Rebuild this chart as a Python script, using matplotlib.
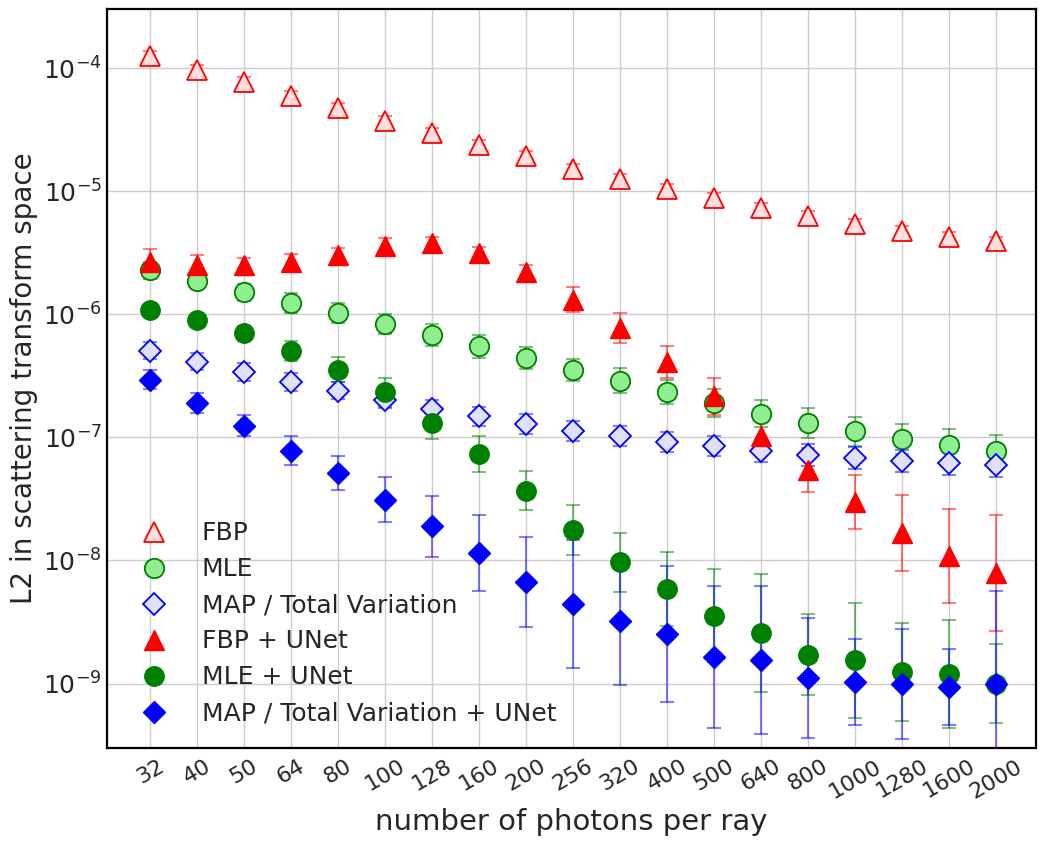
import numpy as np
import matplotlib
matplotlib.use('Agg')
import matplotlib.pyplot as plt

photons = ['32', '40', '50', '64', '80', '100', '128', '160', '200', '256',
           '320', '400', '500', '640', '800', '1000', '1280', '1600', '2000']

# mean L2 values per method
fbp = [1.25e-4, 9.6e-5, 7.7e-5, 5.9e-5, 4.77e-5, 3.73e-5, 2.95e-5, 2.37e-5, 1.93e-5, 1.51e-5,
       1.26e-5, 1.04e-5, 8.85e-6, 7.3e-6, 6.3e-6, 5.4e-6, 4.75e-6, 4.27e-6, 3.9e-6]
mle = [2.27e-6, 1.87e-6, 1.51e-6, 1.23e-6, 1.02e-6, 8.36e-7, 6.76e-7, 5.47e-7, 4.4e-7, 3.54e-7,
       2.88e-7, 2.33e-7, 1.9e-7, 1.55e-7, 1.31e-7, 1.12e-7, 9.7e-8, 8.7e-8, 7.8e-8]
tv = [5.05e-7, 4.11e-7, 3.39e-7, 2.81e-7, 2.39e-7, 2.02e-7, 1.71e-7, 1.48e-7, 1.28e-7, 1.13e-7,
      1.02e-7, 9.2e-8, 8.55e-8, 7.8e-8, 7.2e-8, 6.8e-8, 6.45e-8, 6.2e-8, 6.0e-8]
fbp_unet = [2.68e-6, 2.5e-6, 2.49e-6, 2.68e-6, 3.03e-6, 3.6e-6, 3.77e-6, 3.13e-6, 2.22e-6, 1.31e-6,
            7.7e-7, 4.13e-7, 2.15e-7, 1.02e-7, 5.45e-8, 3.0e-8, 1.67e-8, 1.09e-8, 7.9e-9]
mle_unet = [1.09e-6, 8.9e-7, 7.0e-7, 5.05e-7, 3.54e-7, 2.32e-7, 1.31e-7, 7.3e-8, 3.68e-8, 1.77e-8,
            9.7e-9, 5.86e-9, 3.56e-9, 2.58e-9, 1.72e-9, 1.54e-9, 1.24e-9, 1.2e-9, 1.0e-9]
tv_unet = [2.94e-7, 1.9e-7, 1.24e-7, 7.8e-8, 5.13e-8, 3.12e-8, 1.89e-8, 1.15e-8, 6.7e-9, 4.46e-9,
           3.24e-9, 2.53e-9, 1.64e-9, 1.55e-9, 1.11e-9, 1.03e-9, 0.99e-9, 0.94e-9, 1.0e-9]

# half width of the error bars, in decades
fbp_err = [0.04] * 19
mle_err = [0.07, 0.07, 0.07, 0.08, 0.08, 0.08, 0.09, 0.09, 0.09, 0.09,
           0.1, 0.1, 0.11, 0.11, 0.12, 0.12, 0.12, 0.13, 0.13]
tv_err = [0.07, 0.07, 0.07, 0.07, 0.07, 0.07, 0.07, 0.08, 0.08, 0.08,
          0.08, 0.08, 0.08, 0.09, 0.09, 0.09, 0.09, 0.1, 0.1]
fbp_unet_err = [0.10, 0.08, 0.06, 0.06, 0.06, 0.06, 0.05, 0.05, 0.05, 0.1,
                0.12, 0.13, 0.15, 0.15, 0.18, 0.22, 0.31, 0.38, 0.47]
mle_unet_err = [0.04, 0.05, 0.06, 0.08, 0.1, 0.12, 0.13, 0.146, 0.16, 0.2,
                0.24, 0.3, 0.38, 0.48, 0.33, 0.47, 0.4, 0.44, 0.32]
tv_unet_err = [0.075, 0.08, 0.085, 0.12, 0.14, 0.185, 0.25, 0.31, 0.365, 0.52,
               0.52, 0.55, 0.58, 0.6, 0.49, 0.35, 0.45, 0.31, 0.75]

series = [
    ('FBP', fbp, fbp_err, dict(marker='^', ms=14, mfc='#ffdede', mec='red', mew=1.3), 'red'),
    ('MLE', mle, mle_err, dict(marker='o', ms=14, mfc='#90ee90', mec='green', mew=1.3), 'green'),
    ('MAP / Total Variation', tv, tv_err, dict(marker='D', ms=11, mfc='#e0e0fa', mec='blue', mew=1.3), 'blue'),
    ('FBP + UNet', fbp_unet, fbp_unet_err, dict(marker='^', ms=14, mfc='red', mec='red'), 'red'),
    ('MLE + UNet', mle_unet, mle_unet_err, dict(marker='o', ms=14, mfc='green', mec='green'), 'green'),
    ('MAP / Total Variation + UNet', tv_unet, tv_unet_err, dict(marker='D', ms=11, mfc='blue', mec='blue'), 'blue'),
]

fig = plt.figure(figsize=(10.47, 8.47), dpi=100)
ax = fig.add_axes([0.102, 0.117, 0.8875, 0.872])
x = np.arange(len(photons))

for label, vals, err, mstyle, col in series:
    v = np.array(vals)
    e = np.array(err)
    lo = v - v / 10**e
    hi = v * 10**e - v
    ax.errorbar(x, v, yerr=[lo, hi], fmt='none', ecolor=col, alpha=0.5,
                elinewidth=1.5, capsize=5, capthick=1.5, zorder=2)
    ax.plot(x, v, linestyle='none', label=label, zorder=3, **mstyle)

ax.set_yscale('log')
ax.set_ylim(3e-10, 3e-4)
ax.set_xlim(-0.92, 18.85)
ax.set_xticks(x)
ax.set_xticklabels(photons, rotation=30, fontsize=16, color='#262626')
ax.tick_params(axis='y', labelsize=18, labelcolor='#262626', length=0)
ax.tick_params(axis='x', length=0, pad=6)
ax.minorticks_off()
ax.grid(True, color='#cccccc', linewidth=1)
ax.set_axisbelow(True)
for s in ax.spines.values():
    s.set_color('black')
    s.set_linewidth(1.6)

ax.set_xlabel('number of photons per ray', fontsize=21, color='#262626', labelpad=4)
ax.set_ylabel('L2 in scattering transform space', fontsize=20, color='#262626')
leg = ax.legend(loc='lower left', frameon=False, fontsize=18, handletextpad=0.9,
                borderaxespad=0.5, labelspacing=0.48)
for t in leg.get_texts():
    t.set_color('#262626')

fig.savefig('out.png', dpi=100)
